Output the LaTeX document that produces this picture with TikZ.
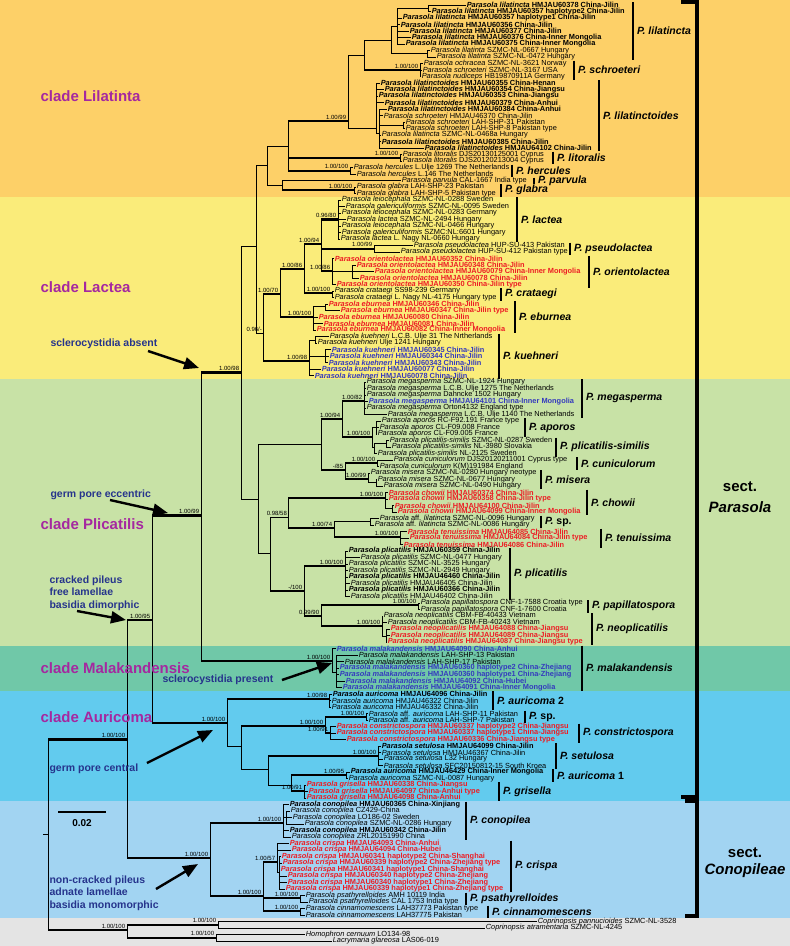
\documentclass[tikz,border=0pt]{standalone}
\usepackage{fontspec}
\setmainfont{Liberation Sans}
\usetikzlibrary{arrows.meta}
\definecolor{bgLil}{RGB}{253,208,104}
\definecolor{bgLac}{RGB}{250,236,122}
\definecolor{bgPli}{RGB}{200,226,166}
\definecolor{bgMal}{RGB}{112,200,168}
\definecolor{bgAur}{RGB}{98,203,238}
\definecolor{bgCon}{RGB}{162,212,242}
\definecolor{bgOut}{RGB}{228,228,228}
\definecolor{newred}{RGB}{237,28,36}
\definecolor{newblue}{RGB}{52,58,190}
\definecolor{cladecol}{RGB}{165,40,160}
\definecolor{notecol}{RGB}{38,52,140}

\tikzset{
  tip/.style={anchor=west,inner sep=0.6pt,font=\fontsize{7.4}{7.4}\selectfont},
  bo/.style={font=\fontsize{7.4}{7.4}\selectfont\bfseries},
  rd/.style={bo,text=newred},
  bl/.style={bo,text=newblue},
  br/.style={line width=0.7pt},
  thk/.style={line width=2.1pt},
  sup/.style={anchor=south east,inner sep=0.8pt,font=\fontsize{6}{6}\selectfont},
  bar/.style={line width=2pt},
  splab/.style={anchor=west,inner sep=0pt,xshift=3pt,font=\fontsize{10.5}{11}\selectfont\bfseries},
  sect/.style={line width=3.5pt},
  clade/.style={anchor=west,text=cladecol,font=\fontsize{15}{15}\selectfont\bfseries},
  note/.style={anchor=west,align=left,text=notecol,font=\fontsize{10.5}{12.4}\selectfont\bfseries},
  bigarrow/.style={line width=2.4pt,-{Triangle[length=15pt,width=12pt]}}
}

\newcommand{\Pa}[1]{\textit{Parasola #1}}
\newcommand{\tp}[4]{\node[tip,#3] (t#1) at (#2,{5+6.5*(#1-1)}) {#4};}
\newcommand{\spbar}[4]{\draw[bar] (#1,{5+6.5*(#2-1)-3}) -- (#1,{5+6.5*(#3-1)+3}) node[splab,midway] (s#2) {#4};}
\newcommand{\te}[3]{\draw[br] (#1) |- (#2); \draw[thk] (#1 |- #2) -- (#2) node[sup] {#3};}
\newcommand{\tn}[3]{\draw[br] (#1) |- (#2) node[sup] {#3};}

\begin{document}
\begin{tikzpicture}[x=1pt,y=-1pt]
\useasboundingbox (0,0) rectangle (790,946);

% coloured bands of the clades
\fill[bgLil] (0,0) rectangle (790,197);
\fill[bgLac] (0,197) rectangle (790,378.5);
\fill[bgPli] (0,378.5) rectangle (790,645.5);
\fill[bgMal] (0,645.5) rectangle (790,691);
\fill[bgAur] (0,691) rectangle (790,801);
\fill[bgCon] (0,801) rectangle (790,918);
\fill[bgOut] (0,918) rectangle (790,946);

% terminal taxa
\tp{1}{466}{bo}{\Pa{lilatincta} HMJAU60378 China-Jilin}
\tp{2}{431}{bo}{\Pa{lilatincta} HMJAU60357 haplotype2 China-Jilin}
\tp{3}{402}{bo}{\Pa{lilatincta} HMJAU60357 haplotype1 China-Jilin}
\tp{4}{400}{bo}{\Pa{lilatincta} HMJAU60356 China-Jilin}
\tp{5}{409}{bo}{\Pa{lilatincta} HMJAU60377 China-Jilin}
\tp{6}{411}{bo}{\Pa{lilatincta} HMJAU60376 China-Inner Mongolia}
\tp{7}{405}{bo}{\Pa{lilatincta} HMJAU60375 China-Inner Mongolia}
\tp{8}{430}{}{\Pa{lilatinta} SZMC-NL-0667 Hungary}
\tp{9}{436}{}{\Pa{lilatinta} SZMC-NL-0472 Hungary}
\tp{10}{423}{}{\Pa{ochracea} SZMC-NL-3621 Norway}
\tp{11}{422}{}{\Pa{schroeteri} SZMC-NL-3167 USA}
\tp{12}{421}{}{\Pa{nudiceps} HB19870911A Germany}
\tp{13}{380}{bo}{\Pa{lilatinctoides} HMJAU60355 China-Henan}
\tp{14}{384}{bo}{\Pa{lilatinctoides} HMJAU60354 China-Jiangsu}
\tp{15}{378}{bo}{\Pa{lilatinctoides} HMJAU60353 China-Jiangsu}
\tp{16}{384}{bo}{\Pa{lilatinctoides} HMJAU60379 China-Anhui}
\tp{17}{387}{bo}{\Pa{lilatinctoides} HMJAU60384 China-Anhui}
\tp{18}{383}{}{\Pa{schroeteri} HMJAU46370 China-Jilin}
\tp{19}{405}{}{\Pa{schroeteri} LAH-SHP-31 Pakistan}
\tp{20}{405}{}{\Pa{schroeteri} LAH-SHP-8 Pakistan type}
\tp{21}{381}{}{\Pa{lilatincta} SZMC-NL-0468a Hungary}
\tp{22}{381}{bo}{\Pa{lilatinctoides} HMJAU60385 China-Jilin}
\tp{23}{424}{bo}{\Pa{lilatinctoides} HMJAU64102 China-Jilin}
\tp{24}{402}{}{\Pa{litoralis} DJS20130125001 Cyprus}
\tp{25}{402}{}{\Pa{litoralis} DJS20120213004 Cyprus}
\tp{26}{353}{}{\Pa{hercules} L.Ulje 1269 The Netherlands}
\tp{27}{356}{}{\Pa{hercules} L.146 The Netherlands}
\tp{28}{401}{}{\Pa{parvula} CAL-1667 India type}
\tp{29}{356}{}{\Pa{glabra} LAH-SHP-23 Pakistan}
\tp{30}{356}{}{\Pa{glabra} LAH-SHP-5 Pakistan type}
\tp{31}{341}{}{\Pa{leiocephala} SZMC-NL-0288 Sweden}
\tp{32}{345}{}{\Pa{galericuliformis} SZMC-NL-0095 Sweden}
\tp{33}{341}{}{\Pa{leiocephala} SZMC-NL-0283 Germany}
\tp{34}{346}{}{\Pa{lactea} SZMC-NL-2494 Hungary}
\tp{35}{341}{}{\Pa{leiocephala} SZMC-NL-0466 Hungary}
\tp{36}{341}{}{\Pa{galericuliformis} SZMC:NL:6601 Hungary}
\tp{37}{340}{}{\Pa{lactea} L. Nagy NL-0660 Hungary}
\tp{38}{413}{}{\Pa{pseudolactea} HUP-SU-413 Pakistan}
\tp{39}{400}{}{\Pa{pseudolactea} HUP-SU-412 Pakistan type}
\tp{40}{334}{rd}{\Pa{orientolactea} HMJAU60352 China-Jilin}
\tp{41}{356}{rd}{\Pa{orientolactea} HMJAU60348 China-Jilin}
\tp{42}{374}{rd}{\Pa{orientolactea} HMJAU60079 China-Inner Mongolia}
\tp{43}{359}{rd}{\Pa{orientolactea} HMJAU60078 China-Jilin}
\tp{44}{336}{rd}{\Pa{orientolactea} HMJAU60350 China-Jilin type}
\tp{45}{334}{}{\Pa{crataegi} SS98-239 Germany}
\tp{46}{334}{}{\Pa{crataegi} L. Nagy NL-4175 Hungary type}
\tp{47}{328}{rd}{\Pa{eburnea} HMJAU60346 China-Jilin}
\tp{48}{340}{rd}{\Pa{eburnea} HMJAU60347 China-Jilin type}
\tp{49}{318}{rd}{\Pa{eburnea} HMJAU60080 China-Jilin}
\tp{50}{323}{rd}{\Pa{eburnea} HMJAU60081 China-Jilin}
\tp{51}{316}{rd}{\Pa{eburnea} HMJAU60082 China-Inner Mongolia}
\tp{52}{329}{}{\Pa{kuehneri} L.C.B. Ulje 31 The Nrtherlands}
\tp{53}{317}{}{\Pa{kuehneri} Ulje 1241 Hungary}
\tp{54}{331}{bl}{\Pa{kuehneri} HMJAU60345 China-Jilin}
\tp{55}{329}{bl}{\Pa{kuehneri} HMJAU60344 China-Jilin}
\tp{56}{328}{bl}{\Pa{kuehneri} HMJAU60343 China-Jilin}
\tp{57}{321}{bl}{\Pa{kuehneri} HMJAU60077 China-Jilin}
\tp{58}{314}{bl}{\Pa{kuehneri} HMJAU60078 China-Jilin}
\tp{59}{366}{}{\Pa{megasperma} SZMC-NL-1924 Hungary}
\tp{60}{366}{}{\Pa{megasperma} L.C.B. Ulje 1275 The Netherlands}
\tp{61}{366}{}{\Pa{megasperma} Dahncke 1502 Hungary}
\tp{62}{368}{bl}{\Pa{megasperma} HMJAU64101 China-Inner Mongolia}
\tp{63}{366}{}{\Pa{megasperma} Orton4132 England type}
\tp{64}{387}{}{\Pa{megasperma} L.C.B. Ulje 1140 The Netherlands}
\tp{65}{381}{}{\Pa{aporos} RC-F92.191 France type}
\tp{66}{379}{}{\Pa{aporos} CL-F09.008 France}
\tp{67}{377}{}{\Pa{aporos} CL-F09.005 France}
\tp{68}{389}{}{\Pa{plicatilis-similis} SZMC-NL-0287 Sweden}
\tp{69}{391}{}{\Pa{plicatilis-similis} NL-3980 Slovakia}
\tp{70}{377}{}{\Pa{plicatilis-similis} NL-2125 Sweden}
\tp{71}{393}{}{\Pa{cuniculorum} DJS20120211001 Cyprus type}
\tp{72}{379}{}{\Pa{cuniculorum} K(M)191984 England}
\tp{73}{370}{}{\Pa{misera} SZMC-NL-0280 Hungary neotype}
\tp{74}{377}{}{\Pa{misera} SZMC-NL-0677 Hungary}
\tp{75}{383}{}{\Pa{misera} SZMC-NL-0490 Hungary}
\tp{76}{388}{rd}{\Pa{chowii} HMJAU60374 China-Jilin}
\tp{77}{388}{rd}{\Pa{chowii} HMJAU60358 China-Jilin type}
\tp{78}{394}{rd}{\Pa{chowii} HMJAU64100 China-Jilin}
\tp{79}{397}{rd}{\Pa{chowii} HMJAU64099 China-Inner Mongolia}
\tp{80}{379}{}{\textit{Parasola} aff. \textit{lilatincta} SZMC-NL-0096 Hungary}
\tp{81}{374}{}{\textit{Parasola} aff. \textit{lilatincta} SZMC-NL-0086 Hungary}
\tp{82}{407}{rd}{\Pa{tenuissima} HMJAU64085 China-Jilin}
\tp{83}{409}{rd}{\Pa{tenuissima} HMJAU64084 China-Jilin type}
\tp{84}{403}{rd}{\Pa{tenuissima} HMJAU64086 China-Jilin}
\tp{85}{348}{bo}{\Pa{plicatilis} HMJAU60359 China-Jilin}
\tp{86}{360}{}{\Pa{plicatilis} SZMC-NL-0477 Hungary}
\tp{87}{348}{}{\Pa{plicatilis} SZMC-NL-3525 Hungary}
\tp{88}{348}{}{\Pa{plicatilis} SZMC-NL-2949 Hungary}
\tp{89}{348}{bo}{\Pa{plicatilis} HMJAU46460 China-Jilin}
\tp{90}{350}{}{\Pa{plicatilis} HMJAU46405 China-Jilin}
\tp{91}{348}{bo}{\Pa{plicatilis} HMJAU60366 China-Jilin}
\tp{92}{350}{}{\Pa{plicatilis} HMJAU46402 China-Jilin}
\tp{93}{420}{}{\Pa{papillatospora} CNF-1-7588 Croatia type}
\tp{94}{420}{}{\Pa{papillatospora} CNF-1-7600 Croatia}
\tp{95}{383}{}{\Pa{neoplicatilis} CBM-FB-40433 Vietnam}
\tp{96}{387}{}{\Pa{neoplicatilis} CBM-FB-40243 Vietnam}
\tp{97}{390}{rd}{\Pa{neoplicatilis} HMJAU64088 China-Jiangsu}
\tp{98}{390}{rd}{\Pa{neoplicatilis} HMJAU64089 China-Jiangsu}
\tp{99}{387}{rd}{\Pa{neoplicatilis} HMJAU64087 China-Jiangsu type}
\tp{100}{336}{bl}{\Pa{malakandensis} HMJAU64090 China-Anhui}
\tp{101}{358}{}{\Pa{malakandensis} LAH-SHP-13 Pakistan}
\tp{102}{344}{}{\Pa{malakandensis} LAH-SHP-17 Pakistan}
\tp{103}{339}{bl}{\Pa{malakandensis} HMJAU60360 haplotype2 China-Zhejiang}
\tp{104}{339}{bl}{\Pa{malakandensis} HMJAU60360 haplotype1 China-Zhejiang}
\tp{105}{345}{bl}{\Pa{malakandensis} HMJAU64092 China-Hubei}
\tp{106}{342}{bl}{\Pa{malakandensis} HMJAU64091 China-Inner Mongolia}
\tp{107}{332}{bo}{\Pa{auricoma} HMJAU64096 China-Jilin}
\tp{108}{331}{}{\Pa{auricoma} HMJAU46322 China-Jilin}
\tp{109}{331}{}{\Pa{auricoma} HMJAU46332 China-Jilin}
\tp{110}{368}{}{\textit{Parasola} aff. \textit{auricoma} LAH-SHP-11 Pakistan}
\tp{111}{368}{}{\textit{Parasola} aff. \textit{auricoma} LAH-SHP-7 Pakistan}
\tp{112}{336}{rd}{\Pa{constrictospora} HMJAU60337 haplotype2 China-Jiangsu}
\tp{113}{336}{rd}{\Pa{constrictospora} HMJAU60337 haplotype1 China-Jiangsu}
\tp{114}{346}{rd}{\Pa{constrictospora} HMJAU60336 China-Jiangsu type}
\tp{115}{381}{bo}{\Pa{setulosa} HMJAU64099 China-Jilin}
\tp{116}{381}{}{\Pa{setulosa} HMJAU46367 China-Jilin}
\tp{117}{383}{}{\Pa{setulosa} L32 Hungary}
\tp{118}{383}{}{\Pa{setulosa} SFC20150812-15 South Kroea}
\tp{119}{350}{bo}{\Pa{auricoma} HMJAU46429 China-Inner Mongolia}
\tp{120}{348}{}{\Pa{auricoma} SZMC-NL-0087 Hungary}
\tp{121}{306}{rd}{\Pa{grisella} HMJAU60338 China-Jiangsu}
\tp{122}{308}{rd}{\Pa{grisella} HMJAU64097 China-Anhui type}
\tp{123}{306}{rd}{\Pa{grisella} HMJAU64098 China-Anhui}
\tp{124}{289}{bo}{\Pa{conopilea} HMJAU60365 China-Xinjiang}
\tp{125}{290}{}{\Pa{conopilea} CZ429-China}
\tp{126}{292}{}{\Pa{conopilea} LO186-02 Sweden}
\tp{127}{304}{}{\Pa{conopilea} SZMC-NL-0286 Hungary}
\tp{128}{289}{bo}{\Pa{conopilea} HMJAU60342 China-Jilin}
\tp{129}{291}{}{\Pa{conopilea} ZRL20151990 China}
\tp{130}{289}{rd}{\Pa{crispa} HMJAU64093 China-Anhui}
\tp{131}{291}{rd}{\Pa{crispa} HMJAU64094 China-Hubei}
\tp{132}{281}{rd}{\Pa{crispa} HMJAU60341 haplotype2 China-Shanghai}
\tp{133}{282}{rd}{\Pa{crispa} HMJAU60339 haplotype2 China-Zhejiang type}
\tp{134}{280}{rd}{\Pa{crispa} HMJAU60341 haplotype1 China-Shanghai}
\tp{135}{287}{rd}{\Pa{crispa} HMJAU60340 haplotype2 China-Zhejiang}
\tp{136}{287}{rd}{\Pa{crispa} HMJAU60340 haplotype1 China-Zhejiang}
\tp{137}{285}{rd}{\Pa{crispa} HMJAU60339 haplotype1 China-Zhejiang type}
\tp{138}{305}{}{\Pa{psathyrelloides} AMH 10119 India}
\tp{139}{308}{}{\Pa{psathyrelloides} CAL 1753 India type}
\tp{140}{305}{}{\Pa{cinnamomescens} LAH37773 Pakistan type}
\tp{141}{305}{}{\Pa{cinnamomescens} LAH37775 Pakistan}
\tp{142}{537}{}{\textit{Coprinopsis pannucioides} SZMC-NL-3528}
\tp{143}{485}{}{\textit{Coprinopsis atramentaria} SZMC-NL-4245}
\tp{144}{305}{}{\textit{Homophron cernuum} LO134-98}
\tp{145}{332}{}{\textit{Lacrymaria glareosa} LAS06-019}

% internal nodes
\path (428,8.25) coordinate (a12)  (397,26) coordinate (a1)
      (427,53.75) coordinate (a89) (391,40) coordinate (a2)
      (420,70) coordinate (sch)    (364,55) coordinate (a3)
      (403,125.25) coordinate (lt2) (379,133) coordinate (lt1)
      (376,128) coordinate (lt)    (348,121) coordinate (a4)
      (400,157.75) coordinate (lit) (288,146) coordinate (a5)
      (350,170.75) coordinate (her) (267,165) coordinate (a6)
      (354,190.25) coordinate (gla) (282,185) coordinate (a7)
      (256,246) coordinate (lil);
\path (338,219.5) coordinate (lac) (374,248.75) coordinate (pse)
      (352,271) coordinate (o2)    (332,271) coordinate (ori)
      (321,244) coordinate (lp)    (332,293.25) coordinate (cra)
      (304,269) coordinate (g1)    (325,306.25) coordinate (e2)
      (313,317) coordinate (ebu)   (280,294) coordinate (g2)
      (315,340) coordinate (k1)    (325,356.25) coordinate (k2)
      (309,361) coordinate (kue)   (263,333) coordinate (lact)
      (241,372.5) coordinate (llp);
\path (364,401) coordinate (meg)   (376,427) coordinate (ap)
      (386,443.75) coordinate (sim1) (374,447) coordinate (sim)
      (372,437) coordinate (aposim) (342,419) coordinate (p1)
      (377,463) coordinate (cun)   (376,482.5) coordinate (mis2)
      (368,479) coordinate (mis)   (345,470) coordinate (p3)
      (321,444) coordinate (p2)    (392,508) coordinate (chow2)
      (385,498) coordinate (chow)  (370,521) coordinate (spp)
      (400,537) coordinate (ten)   (334,528) coordinate (sptn)
      (288,517) coordinate (p4)    (345,566) coordinate (pl)
      (418,605.25) coordinate (pap) (386,636) coordinate (neo2)
      (382,626) coordinate (neo)   (321,616) coordinate (pn)
      (304,591) coordinate (p6)    (270,553) coordinate (p5)
      (258,499) coordinate (p7)    (336,672) coordinate (m2)
      (332,661) coordinate (mal)   (201,515.5) coordinate (up);
\path (329,699) coordinate (au2)   (366,717) coordinate (aff)
      (330,733) coordinate (con)   (325,726) coordinate (ac)
      (378,756) coordinate (set)   (346,775) coordinate (au1)
      (304,791) coordinate (gri)   (291,785) coordinate (gs)
      (268,769) coordinate (sg)    (241,746.5) coordinate (aa)
      (227,723) coordinate (aur)   (152,620) coordinate (sectp);
\path (286,817) coordinate (c2)    (283,823) coordinate (cono)
      (279,872) coordinate (cr2)   (277,862) coordinate (cri)
      (300,898) coordinate (psa)   (300,911) coordinate (cin)
      (263,896) coordinate (pc)    (210,858) coordinate (conop)
      (218,924.75) coordinate (cop) (216,937.75) coordinate (hom)
      (127,930) coordinate (og)    (127,739.5) coordinate (ig)
      (48,834) coordinate (root)   (43,834) coordinate (rootstub);

% thin branches
\foreach \p/\c in {a12/t1.west,a12/t2.west,a1/a12,a1/t3.west,a1/t4.west,a1/t5.west,
  a1/t6.west,a1/t7.west,a89/t8.west,a89/t9.west,a2/a1,a2/a89,sch/t10.west,sch/t11.west,
  sch/t12.west,a3/a2,lt2/t19.west,lt2/t20.west,lt1/t17.west,lt1/t18.west,lt1/lt2,
  lt1/t21.west,lt1/t22.west,lt1/t23.west,lt/t13.west,lt/t14.west,lt/t15.west,lt/t16.west,
  lt/lt1,a4/a3,a4/lt,lit/t24.west,lit/t25.west,her/t26.west,her/t27.west,a6/a5,
  gla/t29.west,gla/t30.west,a7/t28.west,a6/a7,lil/a6,llp/lil}
  \draw[br] (\p) |- (\c);
\foreach \p/\c in {lac/t31.west,lac/t32.west,lac/t33.west,lac/t34.west,lac/t35.west,
  lac/t36.west,lac/t37.west,pse/t38.west,pse/t39.west,o2/t41.west,o2/t42.west,o2/t43.west,
  ori/t40.west,ori/o2,ori/t44.west,cra/t45.west,cra/t46.west,e2/t47.west,e2/t48.west,
  ebu/e2,ebu/t49.west,ebu/t50.west,ebu/t51.west,k1/t52.west,k1/t53.west,k2/t54.west,
  k2/t55.west,k2/t56.west,kue/k1,kue/k2,kue/t57.west,kue/t58.west}
  \draw[br] (\p) |- (\c);
\foreach \p/\c in {meg/t59.west,meg/t60.west,meg/t61.west,meg/t62.west,meg/t63.west,
  meg/t64.west,ap/t65.west,ap/t66.west,ap/t67.west,sim1/t68.west,sim1/t69.west,sim/sim1,
  sim/t70.west,aposim/ap,aposim/sim,cun/t71.west,cun/t72.west,mis2/t74.west,mis2/t75.west,
  mis/t73.west,mis/mis2,chow2/t78.west,chow2/t79.west,chow/t76.west,chow/t77.west,
  chow/chow2,spp/t80.west,spp/t81.west,ten/t82.west,ten/t83.west,ten/t84.west,sptn/spp,
  pl/t85.west,pl/t86.west,pl/t87.west,pl/t88.west,pl/t89.west,pl/t90.west,pl/t91.west,
  pl/t92.west,pap/t93.west,pap/t94.west,neo2/t97.west,neo2/t98.west,neo2/t99.west,
  neo/t95.west,neo/t96.west,neo/neo2,p7/p2,p7/p5,llp/p7}
  \draw[br] (\p) |- (\c);
\foreach \p/\c in {m2/t101.west,m2/t102.west,m2/t103.west,m2/t104.west,m2/t105.west,
  m2/t106.west,mal/t100.west,mal/m2,au2/t107.west,au2/t108.west,au2/t109.west,
  aff/t110.west,aff/t111.west,con/t112.west,con/t113.west,con/t114.west,set/t115.west,
  set/t116.west,set/t117.west,set/t118.west,au1/t119.west,au1/t120.west,gri/t121.west,
  gri/t122.west,gri/t123.west,sg/gs,aa/sg,aur/aa,c2/t125.west,c2/t126.west,c2/t127.west,
  cono/t124.west,cono/c2,cono/t128.west,cono/t129.west,cr2/t132.west,cr2/t133.west,
  cr2/t134.west,cr2/t135.west,cr2/t136.west,cr2/t137.west,cri/t130.west,cri/t131.west,
  cri/cr2,psa/t138.west,psa/t139.west,cin/t140.west,cin/t141.west,cop/t142.west,
  cop/t143.west,hom/t144.west,hom/t145.west}
  \draw[br] (\p) |- (\c);
\draw[br] (rootstub) -- (root);

% supported branches
\te{a3}{sch}{1.00/100}
\te{a5}{a4}{1.00/99}
\te{a5}{lit}{1.00/100}
\te{a5}{her}{1.00/100}
\te{a7}{gla}{1.00/100}
\te{lp}{lac}{0.96/80}
\te{lp}{pse}{1.00/99}
\te{lp}{ori}{1.00/86}
\te{g1}{lp}{1.00/94}
\te{g1}{cra}{1.00/100}
\te{g2}{g1}{1.00/86}
\te{g2}{ebu}{1.00/100}
\te{lact}{g2}{1.00/70}
\te{lact}{kue}{1.00/98}
\tn{lil}{lact}{0.96/-}
\te{p1}{meg}{1.00/82}
\te{p1}{aposim}{1.00/100}
\te{p3}{cun}{1.00/100}
\te{p3}{mis}{1.00/99}
\te{p2}{p1}{1.00/94}
\te{p2}{p3}{-/85}
\te{p4}{chow}{1.00/100}
\te{sptn}{ten}{1.00/100}
\te{p4}{sptn}{1.00/74}
\te{pn}{pap}{1.00/100}
\te{pn}{neo}{1.00/100}
\te{p6}{pl}{1.00/100}
\te{p6}{pn}{0.99/90}
\tn{p5}{p4}{0.98/58}
\te{p5}{p6}{-/100}
\te{up}{llp}{1.00/98}
\te{up}{mal}{1.00/100}
\te{aa}{ac}{1.00/100}
\te{ac}{aff}{1.00/100}
\te{ac}{con}{1.00/91}
\te{sg}{set}{1.00/100}
\te{gs}{au1}{1.00/95}
\te{gs}{gri}{1.00/91}
\te{aur}{au2}{1.00/98}
\te{sectp}{up}{1.00/99}
\te{sectp}{aur}{1.00/100}
\te{conop}{cono}{1.00/100}
\te{pc}{cri}{1.00/57}
\te{pc}{psa}{1.00/100}
\te{pc}{cin}{1.00/100}
\te{conop}{pc}{1.00/100}
\te{ig}{sectp}{1.00/95}
\te{ig}{conop}{1.00/100}
\te{og}{cop}{1.00/100}
\te{og}{hom}{1.00/100}
\te{root}{ig}{1.00/100}
\te{root}{og}{1.00/100}

% species bars
\spbar{633}{1}{9}{\textit{P. lilatincta}}
\spbar{574}{10}{12}{\textit{P. schroeteri}}
\spbar{599}{13}{23}{\textit{P. lilatinctoides}}
\spbar{553}{24}{25}{\textit{P. litoralis}}
\spbar{512}{26}{27}{\textit{P. hercules}}
\spbar{534}{28}{28}{\textit{P. parvula}}
\spbar{501}{29}{30}{\textit{P. glabra}}
\spbar{517}{31}{37}{\textit{P. lactea}}
\spbar{570}{38}{39}{\textit{P. pseudolactea}}
\spbar{589}{40}{44}{\textit{P. orientolactea}}
\spbar{501}{45}{46}{\textit{P. crataegi}}
\spbar{515}{47}{51}{\textit{P. eburnea}}
\spbar{499}{52}{58}{\textit{P. kuehneri}}
\spbar{582}{59}{64}{\textit{P. megasperma}}
\spbar{525}{65}{67}{\textit{P. aporos}}
\spbar{556}{68}{70}{\textit{P. plicatilis-similis}}
\spbar{577}{71}{72}{\textit{P. cuniculorum}}
\spbar{541}{73}{75}{\textit{P. misera}}
\spbar{587}{76}{79}{\textit{P. chowii}}
\spbar{541}{80}{81}{\textit{P.} sp.}
\spbar{601}{82}{84}{\textit{P. tenuissima}}
\spbar{510}{85}{92}{\textit{P. plicatilis}}
\spbar{588}{93}{94}{\textit{P. papillatospora}}
\spbar{592}{95}{99}{\textit{P. neoplicatilis}}
\spbar{582}{100}{106}{\textit{P. malakandensis}}
\spbar{493}{107}{109}{\textit{P. auricoma} 2}
\spbar{525}{110}{111}{\textit{P.} sp.}
\spbar{579}{112}{114}{\textit{P. constrictospora}}
\spbar{556}{115}{118}{\textit{P. setulosa}}
\spbar{553}{119}{120}{\textit{P. auricoma} 1}
\spbar{499}{121}{123}{\textit{P. grisella}}
\spbar{466}{124}{129}{\textit{P. conopilea}}
\spbar{511}{130}{137}{\textit{P. crispa}}
\spbar{466}{138}{139}{\textit{P. psathyrelloides}}
\spbar{488}{140}{141}{\textit{P. cinnamomescens}}

% sections
\draw[sect] (681,2) -- (697,2) -- (697,797) -- (681,797);
\draw[sect] (685,801) -- (697,801) -- (697,916) -- (685,916);
\node[font=\fontsize{15}{15}\selectfont\bfseries] (secta) at (740,487) {sect.};
\node[font=\fontsize{15}{15}\selectfont\bfseries\itshape] (sectb) at (740,507) {Parasola};
\node[font=\fontsize{15}{15}\selectfont\bfseries] (sectc) at (745,853) {sect.};
\node[font=\fontsize{15}{15}\selectfont\bfseries\itshape] (sectd) at (745,871) {Conopileae};

% clade names
\node[clade] (cl1) at (37,96) {clade Lilatinta};
\node[clade] (cl2) at (37,287) {clade Lactea};
\node[clade] (cl3) at (37,524) {clade Plicatilis};
\node[clade] (cl4) at (37,668) {clade Malakandensis};
\node[clade] (cl5) at (37,717) {clade Auricoma};

% characters
\node[note] (n1) at (47,344) {sclerocystidia absent};
\node[note] (n2) at (47,495) {germ pore eccentric};
\node[note] (n3) at (46,593) {cracked pileus\\free lamellae\\basidia dimorphic};
\node[note] (n4) at (159,680) {sclerocystidia present};
\node[note] (n5) at (46,769) {germ pore central};
\node[note] (n6) at (46,893) {non-cracked pileus\\adnate lamellae\\basidia monomorphic};
\path (148,351) coordinate (w1) (199,368) coordinate (h1)
      (110,500) coordinate (w2) (168,513) coordinate (h2)
      (77,611) coordinate (w3) (126,620) coordinate (h3)
      (282,680) coordinate (w4) (332,663) coordinate (h4)
      (147,763) coordinate (w5) (213,730) coordinate (h5)
      (156,889) coordinate (w6) (198,864) coordinate (h6);
\foreach \a/\b in {w1/h1,w2/h2,w3/h3,w4/h4,w5/h5,w6/h6}
  \draw[bigarrow] (\a) -- (\b);

% scale
\draw[line width=2.5pt] (58,812) -- (106,812);
\node[font=\fontsize{10}{10}\selectfont\bfseries] (scl) at (82,823) {0.02};

\end{tikzpicture}
\end{document}
